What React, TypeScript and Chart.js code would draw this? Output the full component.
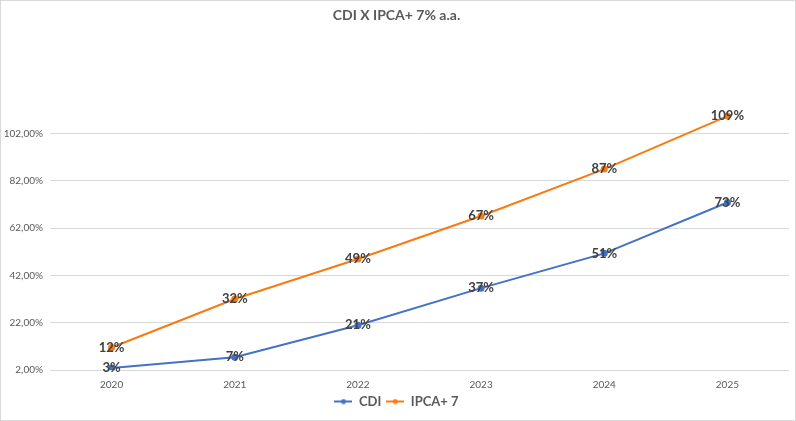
import { useRef, useEffect } from "react";
import { Chart, registerables } from "chart.js";

Chart.register(...registerables);

const years = ["2020", "2021", "2022", "2023", "2024", "2025"];
const cdiValues = [2.8, 7.4, 20.9, 36.6, 51.3, 72.8];
const ipcaValues = [11.5, 32.0, 48.9, 67.1, 86.9, 109.3];
const yTicks = [2, 22, 42, 62, 82, 102];

const CDI_COLOR = "#4472C4";
const IPCA_COLOR = "#F77B12";
const FONT = "Lato, 'Open Sans', sans-serif";

// small "line with dot" swatch for the legend, like Excel draws it
const makeSwatch = (color: string) => {
  const c = document.createElement("canvas");
  c.width = 18;
  c.height = 6;
  const g = c.getContext("2d")!;
  g.strokeStyle = color;
  g.lineWidth = 2;
  g.beginPath();
  g.moveTo(0, 3);
  g.lineTo(18, 3);
  g.stroke();
  g.fillStyle = color;
  g.beginPath();
  g.arc(9, 3, 2.5, 0, Math.PI * 2);
  g.fill();
  return c;
};

const pointLabels = {
  id: "pointLabels",
  afterDatasetsDraw(chart: Chart) {
    const ctx = chart.ctx;
    ctx.save();
    ctx.font = `bold 13px ${FONT}`;
    ctx.fillStyle = "#404040";
    ctx.textAlign = "center";
    ctx.textBaseline = "middle";
    chart.data.datasets.forEach((ds, i) => {
      const meta = chart.getDatasetMeta(i);
      meta.data.forEach((pt, j) => {
        const v = ds.data[j] as number;
        ctx.fillText(`${Math.round(v)}%`, pt.x, pt.y);
      });
    });
    ctx.restore();
  },
};

const App = () => {
  const chartRef = useRef<HTMLCanvasElement | null>(null);
  const chartInstance = useRef<Chart | null>(null);

  useEffect(() => {
    if (!chartRef.current) return;
    if (chartInstance.current) chartInstance.current.destroy();
    const ctx = chartRef.current.getContext("2d");
    if (!ctx) return;

    const swatches = [makeSwatch(CDI_COLOR), makeSwatch(IPCA_COLOR)];

    chartInstance.current = new Chart(ctx, {
      type: "line",
      data: {
        labels: years,
        datasets: [
          {
            label: "CDI",
            data: cdiValues,
            borderColor: CDI_COLOR,
            backgroundColor: CDI_COLOR,
            borderWidth: 2,
            pointRadius: 2.5,
            tension: 0,
          },
          {
            label: "IPCA+ 7",
            data: ipcaValues,
            borderColor: IPCA_COLOR,
            backgroundColor: IPCA_COLOR,
            borderWidth: 2,
            pointRadius: 2.5,
            tension: 0,
          },
        ],
      },
      options: {
        responsive: false,
        animation: false,
        layout: { padding: { top: 0, right: 3, bottom: 2, left: 0 } },
        scales: {
          x: {
            offset: true,
            grid: { display: false, drawTicks: false },
            border: { display: false },
            ticks: { color: "#595959", font: { family: FONT, size: 10 }, padding: 9 },
            afterFit: (scale: any) => {
              scale.height = 20;
            },
          },
          y: {
            min: 2,
            max: 120,
            afterBuildTicks: (scale: any) => {
              scale.ticks = yTicks.map((v) => ({ value: v }));
            },
            afterFit: (scale: any) => {
              scale.width = 49;
            },
            grid: { color: "#D9D9D9", drawTicks: false },
            border: { display: false },
            ticks: {
              color: "#595959",
              font: { family: FONT, size: 10 },
              padding: 7,
              callback: (v: any) => `${Number(v).toFixed(2).replace(".", ",")}%`,
            },
          },
        },
        plugins: {
          title: {
            display: true,
            text: "CDI X IPCA+ 7% a.a.",
            color: "#595959",
            font: { family: FONT, size: 14, weight: "bold" },
            padding: { top: 6, bottom: 67 },
          },
          legend: {
            position: "bottom",
            labels: {
              usePointStyle: true,
              pointStyleWidth: 18,
              boxHeight: 6,
              padding: 5,
              color: "#595959",
              font: { family: FONT, size: 13, weight: "bold" },
              generateLabels: (chart: Chart) =>
                Chart.defaults.plugins.legend.labels
                  .generateLabels(chart)
                  .map((l: any, i: number) => ({ ...l, pointStyle: swatches[i] })),
            },
          },
          tooltip: { enabled: false },
        },
      },
      plugins: [pointLabels],
    });

    return () => {
      if (chartInstance.current) {
        chartInstance.current.destroy();
        chartInstance.current = null;
      }
    };
  }, []);

  return (
    <div
      style={{
        position: "absolute",
        left: 0,
        top: 0,
        width: 796,
        height: 421,
        boxSizing: "border-box",
        border: "1px solid #D9D9D9",
        background: "#fff",
      }}
    >
      <canvas ref={chartRef} width={794} height={419} style={{ display: "block" }} />
    </div>
  );
};

export default App;
